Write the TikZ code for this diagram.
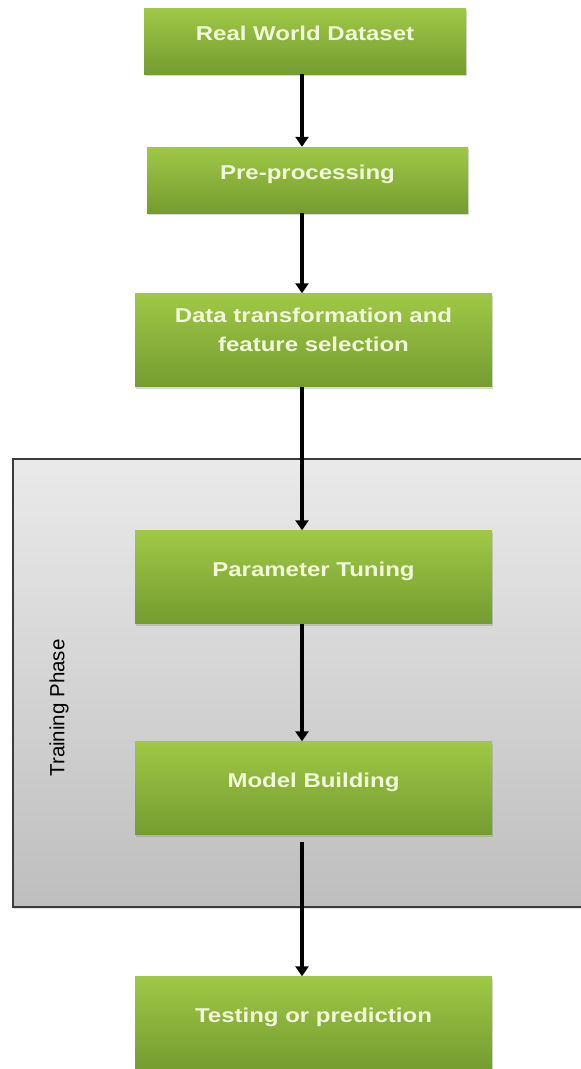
\documentclass[tikz,border=0pt]{standalone}
\usepackage{fontspec}
\usepackage{tikz}
\usetikzlibrary{positioning, arrows.meta, shadows}
\newfontfamily\boxfont[FakeStretch=1.2]{Liberation Sans}
\newfontfamily\phasefont{Liberation Sans}
\definecolor{boxtop}{RGB}{160,200,70}
\definecolor{boxbottom}{RGB}{116,156,48}
\definecolor{boxtext}{RGB}{242,248,218}
\definecolor{frametop}{RGB}{234,234,234}
\definecolor{framebottom}{RGB}{190,190,190}
\definecolor{frameline}{RGB}{60,60,60}
\tikzset{
procbox/.style={rectangle, top color=boxtop, bottom color=boxbottom, minimum width=357pt, minimum height=93pt, text=boxtext, font=\boxfont\bfseries\fontsize{20}{29}\selectfont, align=center, drop shadow={shadow xshift=1pt, shadow yshift=-2pt, opacity=.3}}, % green process box
oneline/.style={text height=14pt, text depth=16pt}, % lifts a single line a little above the middle
trainframe/.style={rectangle, top color=frametop, bottom color=framebottom, draw=frameline, line width=2pt, drop shadow={shadow xshift=1pt, shadow yshift=-2pt, opacity=.25}}, % grey frame of the training phase
flow/.style={line width=3.5pt, black, -{Triangle[width=13pt,length=10pt]}}, % black arrows
}

\begin{document}
\begin{tikzpicture}[x=1pt, y=-1pt]
\clip (0,0) rectangle (581,1069);
\node[trainframe, minimum width=590pt, minimum height=448pt] (phase) at (308,683) {};
\node[rotate=90, font=\phasefont\fontsize{20.5}{24}\selectfont] (phaselbl) at (59,708) {Training Phase};
\node[procbox, oneline, minimum width=322pt, minimum height=66pt] (real) at (305,41) {Real World Dataset};
\node[procbox, oneline, minimum width=321pt, minimum height=66pt] (prep) at (307.5,180) {Pre-processing};
\node[procbox] (trans) at (313.5,340) {Data transformation and\\feature selection\rule[-20pt]{0pt}{0pt}};
\node[procbox, oneline] (tune) at (313.5,577) {Parameter Tuning};
\node[procbox, oneline] (build) at (313.5,788) {Model Building};
\node[procbox, oneline] (test) at (313.5,1023) {Testing or prediction};
\coordinate (spine) at (302,0);
\draw[flow] (real.south -| spine) -- (prep.north -| spine);
\draw[flow] (prep.south -| spine) -- (trans.north -| spine);
\draw[flow] (trans.south -| spine) -- (tune.north -| spine);
\draw[flow] (tune.south -| spine) -- (build.north -| spine);
\draw[flow] ([yshift=-7pt]build.south -| spine) -- (test.north -| spine);
\end{tikzpicture}
\end{document}
